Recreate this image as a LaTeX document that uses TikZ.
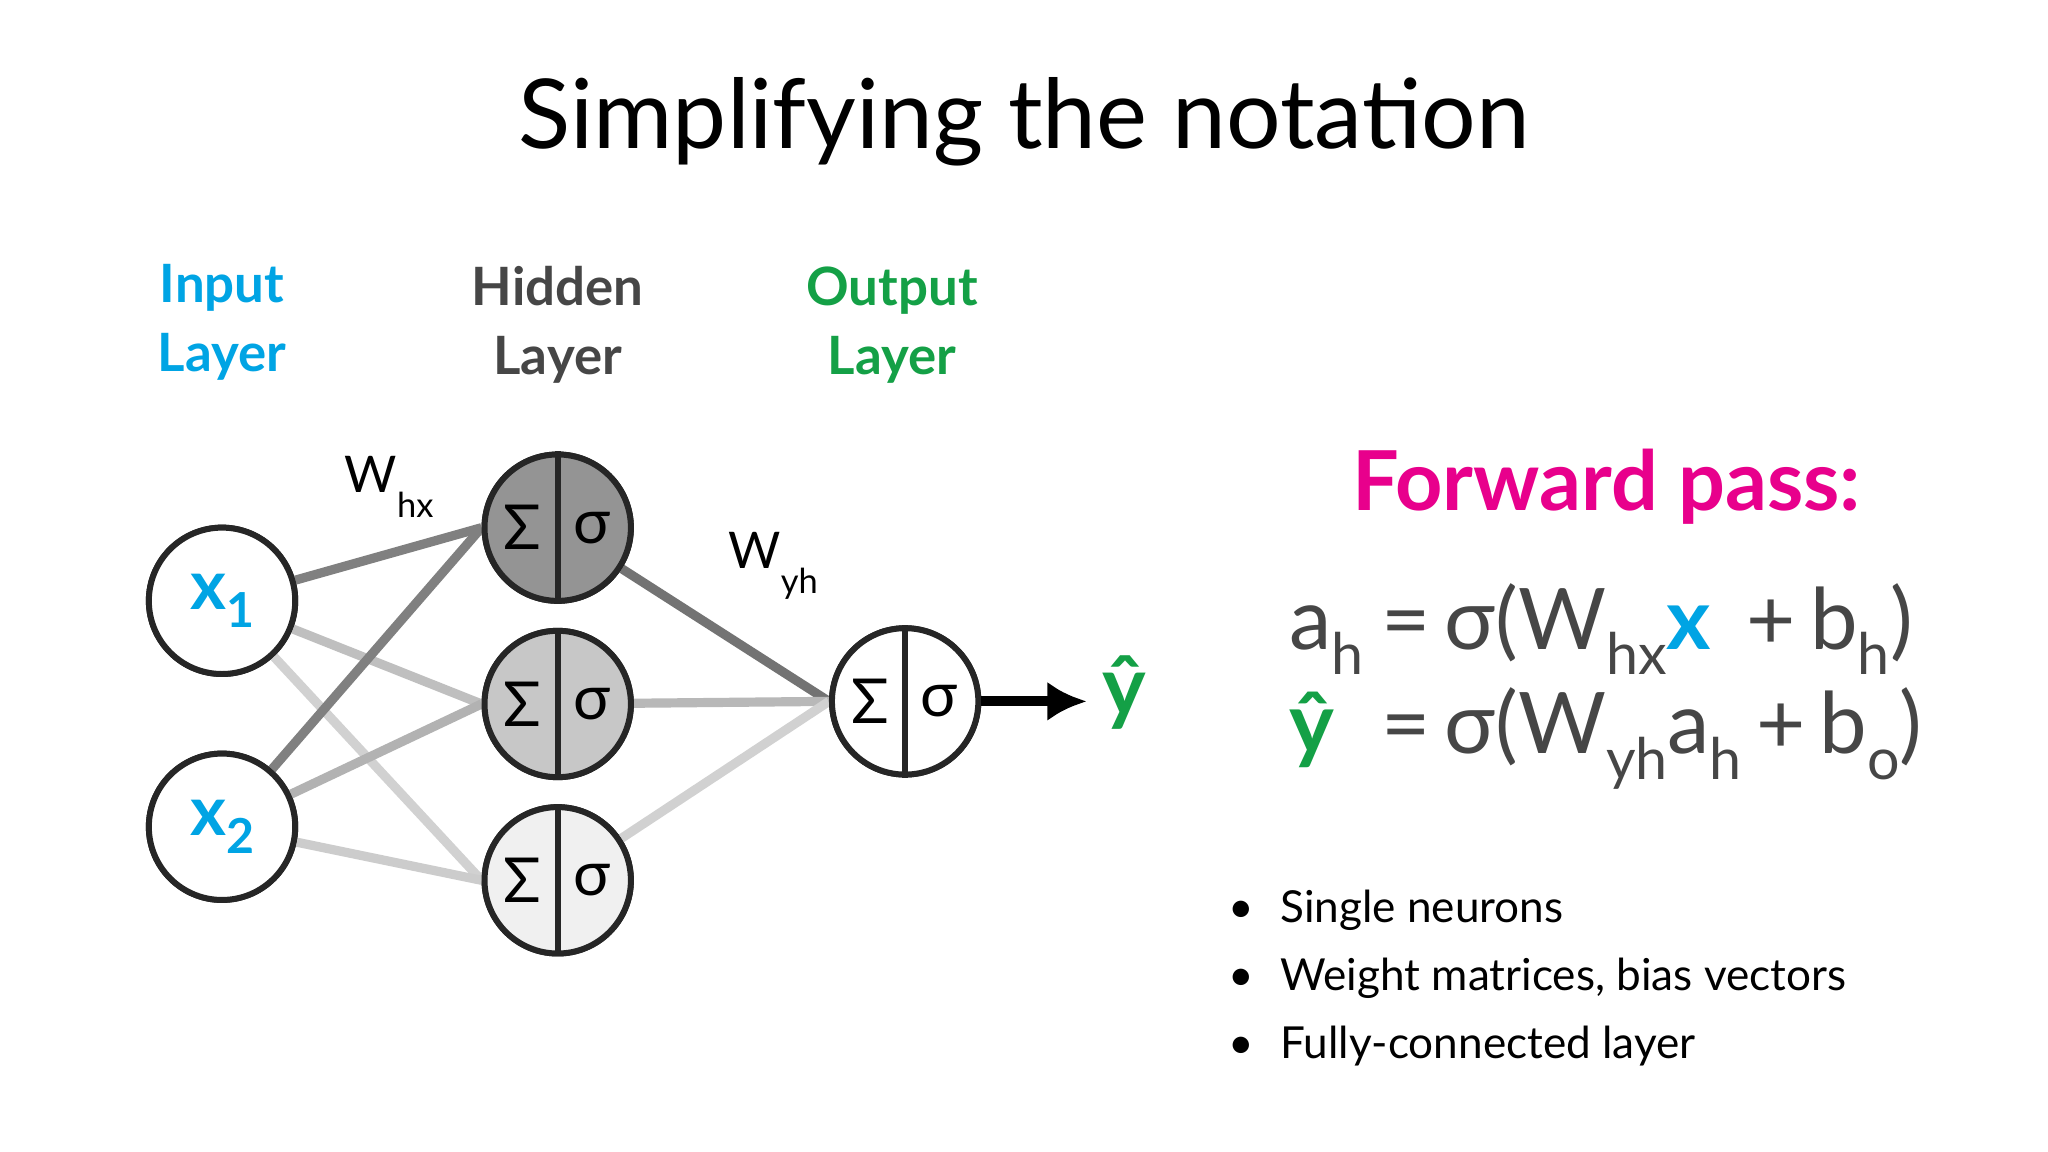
\documentclass[tikz,border=0pt]{standalone}
\usepackage{fontspec}
\setmainfont{Lato}
\usetikzlibrary{arrows.meta}
\definecolor{cy}{RGB}{0,164,228}
\definecolor{gr}{RGB}{20,160,70}
\definecolor{mg}{RGB}{232,0,140}
\definecolor{dk}{RGB}{70,70,70}
\newcommand{\sbx}[1]{\raisebox{-0.3em}{\fontsize{12.5}{13}\selectfont #1}}
\newcommand{\sbc}[1]{\raisebox{-0.25em}{\fontsize{10.5}{11}\selectfont #1}}
\begin{document}
\begin{tikzpicture}[x=0.01cm,y=-0.01cm,
 neu/.style={circle,draw=black!85,line width=1.3pt,minimum size=1.12cm,inner sep=0pt},
 lay/.style={font=\fontsize{11.5}{15}\selectfont\bfseries,align=center},
 ed/.style={line width=2pt},
 ss/.style={font=\fontsize{13.5}{14}\selectfont}]
\useasboundingbox (0,0) rectangle (1568,882);
\fill[white] (0,0) rectangle (1568,882);
\node[font=\fontsize{21}{26}\selectfont\addfontfeatures{FakeBold=-0.3}] (title) at (784,93) {Simplifying the notation};
\node[lay,text=cy] (il) at (170,247) {Input\\Layer};
\node[lay,text=dk] (hl) at (427,249) {Hidden\\Layer};
\node[lay,text=gr] (ol) at (683,249) {Output\\Layer};
\coordinate (x1c) at (170,460); \coordinate (x2c) at (170,633);
\coordinate (h1c) at (427,404); \coordinate (h2c) at (427,539); \coordinate (h3c) at (427,674);
\coordinate (oc) at (693,537);
\node[neu,fill=white] (x1) at (x1c) {};
\node[neu,fill=white] (x2) at (x2c) {};
\node[neu,fill=black!42] (h1) at (h1c) {};
\node[neu,fill=black!22] (h2) at (h2c) {};
\node[neu,fill=black!6] (h3) at (h3c) {};
\node[neu,fill=white] (o) at (oc) {};
\draw[ed,black!18] (x1) -- (h3.west);
\draw[ed,black!20] (x2) -- (h3.west);
\draw[ed,black!25] (x1) -- (h2.west);
\draw[ed,black!30] (x2) -- (h2.west);
\draw[ed,black!50] (x1) -- (h1.west);
\draw[ed,black!50] (x2) -- (h1.west);
\draw[ed,black!55] (h1) -- (o.west);
\draw[ed,black!28] (h2) -- (o.west);
\draw[ed,black!18] (h3) -- (o.west);
\foreach \n/\f in {x1/white,x2/white,h1/black!42,h2/black!22,h3/black!6,o/white}
  \draw[line width=1.3pt,draw=black!85,fill=\f] (\n.center) circle (0.56cm);
\foreach \n in {h1,h2,h3,o}{
  \draw[line width=1.3pt,black!85] (\n.north) -- (\n.south);
  \node[ss] at ([xshift=-0.27cm]\n.center) {Σ};
  \node[ss] at ([xshift=0.26cm]\n.center) {σ};}
\node[text=cy,font=\fontsize{15}{16}\selectfont\bfseries] at (x1c) {x\sbc{1}};
\node[text=cy,font=\fontsize{15}{16}\selectfont\bfseries] at (x2c) {x\sbc{2}};
\node[font=\fontsize{11}{12}\selectfont] (whx) at (298,373) {W\raisebox{-0.5em}{\fontsize{7.5}{8}\selectfont hx}};
\node[font=\fontsize{11}{12}\selectfont] (wyh) at (592,433) {W\raisebox{-0.5em}{\fontsize{7.5}{8}\selectfont yh}};
\coordinate (arrend) at (832,537);
\draw[line width=2.2pt,-{Latex[length=0.3cm,width=0.3cm]}] (o.east) -- (arrend);
\node[text=gr,font=\fontsize{18}{18}\selectfont\bfseries,anchor=west] (yhat) at (832,530) {ŷ};
\node[text=mg,font=\fontsize{18}{20}\selectfont\bfseries] (fp) at (1230,373) {Forward pass:};
\node[text=dk,font=\fontsize{18.5}{22}\selectfont,anchor=base west] (e1l) at (975,497) {a\sbx{h}};
\node[text=dk,font=\fontsize{18.5}{22}\selectfont,anchor=base west] (e1r) at (1045,497) {=\,σ(W\sbx{hx}{\color{cy}\bfseries x}\ \,+\,b\sbx{h})};
\node[text=gr,font=\fontsize{18.5}{22}\selectfont\bfseries,anchor=base west] (e2l) at (975,577) {ŷ};
\node[text=dk,font=\fontsize{18.5}{22}\selectfont,anchor=base west] (e2r) at (1045,577) {=\,σ(W\sbx{yh}a\sbx{h}\,+\,b\sbx{o})};
\foreach \t/\y in {Single neurons/697,{Weight matrices, bias vectors}/749,Fully-connected layer/801}
  \node[font=\fontsize{9.6}{12}\selectfont,anchor=west] at (928,\y) {\textbullet\hspace{0.6em}\t};
\end{tikzpicture}
\end{document}
